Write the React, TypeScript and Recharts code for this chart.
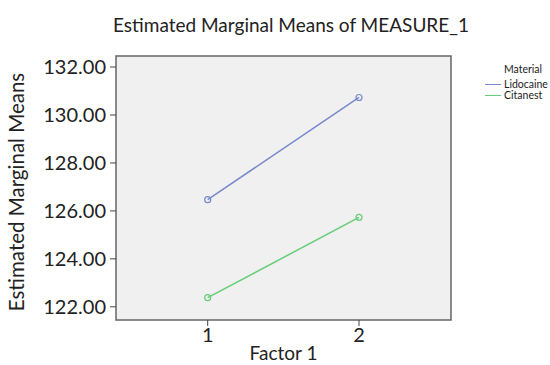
import {
  LineChart,
  Line,
  XAxis,
  YAxis,
  ReferenceArea,
} from "recharts";

const factor = [1, 2];
const lidocaine = [126.47, 130.73];
const citanest = [122.38, 125.73];
const yTicks = [122, 124, 126, 128, 130, 132];
const xTicks = [1, 2];

const series = [
  { key: "Lidocaine", color: "#7788cc" },
  { key: "Citanest", color: "#66cc77" },
];

const data = factor.map((f, i) => ({
  factor: f,
  Lidocaine: lidocaine[i],
  Citanest: citanest[i],
}));

const font = "Lato, 'Open Sans', sans-serif";
const textColor = "#222";

const XMIN = 0.394;
const XMAX = 2.608;
const YMIN = 121.45;
const YMAX = 132.46;

const LegendBox = () => (
  <div
    style={{
      position: "absolute",
      left: 485,
      top: 64,
      fontFamily: font,
      fontSize: 10.5,
      color: textColor,
      lineHeight: "11px",
    }}
  >
    <div style={{ marginLeft: 19, marginBottom: 4 }}>Material</div>
    {series.map((s) => (
      <div key={s.key} style={{ display: "flex", alignItems: "center", height: 11 }}>
        <span
          style={{
            display: "inline-block",
            width: 16,
            height: 0,
            borderTop: `1.5px solid ${s.color}`,
            marginRight: 3,
          }}
        />
        <span>{s.key}</span>
      </div>
    ))}
  </div>
);

const YLabel = () => (
  <text
    x={24}
    y={192}
    transform="rotate(-90, 24, 192)"
    textAnchor="middle"
    fontFamily={font}
    fontSize={20.5}
    fill={textColor}
  >
    Estimated Marginal Means
  </text>
);

export default function App() {
  return (
    <div style={{ position: "absolute", left: 0, top: 0, width: 550, height: 365, background: "#fff" }}>
      <div
        style={{
          position: "absolute",
          left: 0,
          width: 582,
          top: 13,
          textAlign: "center",
          fontFamily: font,
          fontSize: 19,
          color: textColor,
        }}
      >
        Estimated Marginal Means of MEASURE_1
      </div>
      <LineChart
        width={550}
        height={365}
        data={data}
        margin={{ top: 56, right: 99, bottom: 0, left: 0 }}
      >
        <ReferenceArea
          x1={XMIN}
          x2={XMAX}
          y1={YMIN}
          y2={YMAX}
          fill="#f0f0f0"
          fillOpacity={1}
          stroke="#666"
          strokeWidth={1.5}
          ifOverflow="visible"
        />
        <XAxis
          dataKey="factor"
          type="number"
          domain={[XMIN, XMAX]}
          ticks={xTicks}
          height={45}
          tickSize={6}
          tickMargin={2}
          axisLine={false}
          tickLine={{ stroke: "#444" }}
          tick={{ fontFamily: font, fontSize: 20, fill: textColor }}
          label={{
            value: "Factor 1",
            position: "insideBottom",
            offset: 5,
            fontFamily: font,
            fontSize: 19,
            fill: textColor,
          }}
        />
        <YAxis
          type="number"
          domain={[YMIN, YMAX]}
          ticks={yTicks}
          width={116}
          tickSize={6}
          tickMargin={4}
          axisLine={false}
          tickLine={{ stroke: "#444" }}
          tickFormatter={(v: number) => v.toFixed(2)}
          tick={{ fontFamily: font, fontSize: 20, fill: textColor }}
          label={{ content: <YLabel /> }}
        />
        {series.map((s) => (
          <Line
            key={s.key}
            dataKey={s.key}
            stroke={s.color}
            strokeWidth={1.5}
            dot={{ r: 3, stroke: s.color, strokeWidth: 1.2, fill: "none" }}
            isAnimationActive={false}
          />
        ))}
      </LineChart>
      <LegendBox />
    </div>
  );
}
